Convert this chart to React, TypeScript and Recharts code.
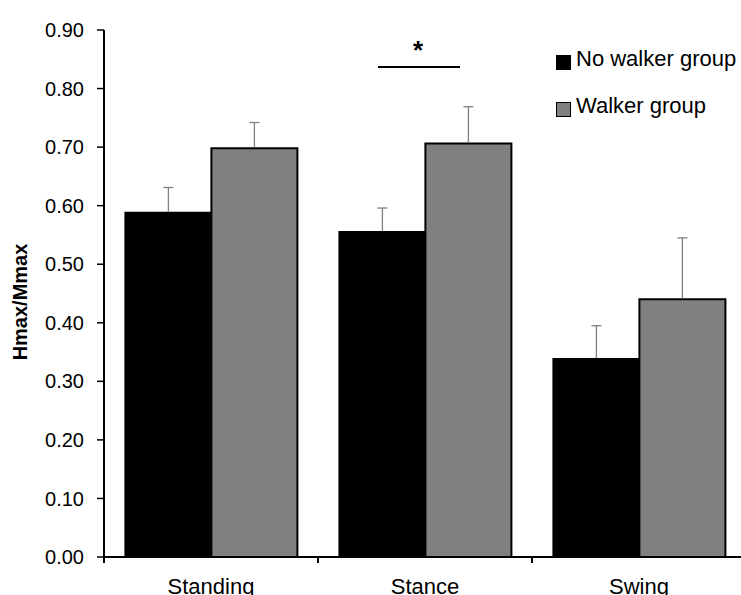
import { BarChart, Bar, XAxis, YAxis, Legend, Rectangle } from 'recharts';

const categories = ['Standing', 'Stance', 'Swing'];
const noWalker = [0.588, 0.555, 0.338];
const noWalkerErr = [0.043, 0.041, 0.057];
const walker = [0.698, 0.706, 0.44];
const walkerErr = [0.044, 0.063, 0.105];
const yTicks = [0, 0.1, 0.2, 0.3, 0.4, 0.5, 0.6, 0.7, 0.8, 0.9];

const data = categories.map((name, i) => ({
  name,
  noWalker: noWalker[i],
  noWalkerErr: noWalkerErr[i],
  walker: walker[i],
  walkerErr: walkerErr[i],
}));

const FONT = '"Liberation Sans", Arial, sans-serif';

// bar with an upward-only error whisker (Excel "plus" style)
function makeBarShape(errKey: string) {
  return (props: any) => {
    const { x, y, width, height, payload, value } = props;
    const v = Array.isArray(value) ? value[1] - value[0] : value;
    const err = payload[errKey];
    const pxPerUnit = v ? height / v : 0;
    const top = y - err * pxPerUnit;
    const cx = x + width / 2;
    return (
      <g>
        <Rectangle {...props} />
        <line x1={cx} x2={cx} y1={y - 1} y2={top} stroke="#808080" strokeWidth={1.3} />
        <line x1={cx - 5} x2={cx + 5} y1={top} y2={top} stroke="#808080" strokeWidth={1.3} />
      </g>
    );
  };
}

// category label plus a tick mark on the left boundary of each category
function CategoryTick(props: any) {
  const { x, y, payload } = props;
  const half = payload.offset ?? 0;
  const axisY = y - 21;
  return (
    <g>
      <line x1={x - half} x2={x - half} y1={axisY} y2={axisY + 6} stroke="#000" strokeWidth={2} />
      <text x={x} y={y} dy="0.71em" textAnchor="middle" fill="#000" fontSize={22} fontFamily={FONT}>
        {payload.value}
      </text>
    </g>
  );
}

function LegendBox(props: any) {
  const { payload } = props;
  return (
    <div style={{ fontFamily: FONT, fontSize: 22, color: '#000' }}>
      {payload.map((entry: any) => (
        <div key={entry.value} style={{ display: 'flex', alignItems: 'center', height: 47.6 }}>
          <span
            style={{
              display: 'inline-block',
              width: 15,
              height: 15,
              boxSizing: 'border-box',
              background: entry.color,
              border: '1.5px solid #000',
              marginTop: 7,
              marginRight: 5,
            }}
          />
          <span style={{ lineHeight: 1 }}>{entry.value}</span>
        </div>
      ))}
    </div>
  );
}

export default function App() {
  return (
    <div style={{ position: 'absolute', left: 0, top: 0, width: 741, height: 595, overflow: 'hidden', background: '#fff' }}>
      <BarChart
        width={760}
        height={595}
        data={data}
        margin={{ top: 30, right: 14, bottom: 0, left: 0 }}
        barCategoryGap="10%"
        barGap={0}
      >
        <YAxis
          width={104}
          domain={[0, 0.9]}
          ticks={yTicks}
          interval={0}
          tickFormatter={(v: number) => v.toFixed(2)}
          axisLine={{ stroke: '#000', strokeWidth: 2 }}
          tickLine={{ stroke: '#000', strokeWidth: 1.5 }}
          tickSize={7}
          tickMargin={13}
          tick={{ fill: '#000', fontSize: 20, fontFamily: FONT }}
          label={{
            content: () => (
              <text
                x={27}
                y={302}
                transform="rotate(-90 27 302)"
                textAnchor="middle"
                fontSize={20}
                fontWeight="bold"
                fontFamily={FONT}
                fill="#000"
              >
                Hmax/Mmax
              </text>
            ),
          }}
        />
        <XAxis
          dataKey="name"
          height={38}
          interval={0}
          axisLine={{ stroke: '#000', strokeWidth: 2 }}
          tickLine={false}
          tickSize={0}
          tickMargin={21}
          tick={<CategoryTick />}
        />
        <Legend
          layout="vertical"
          align="center"
          verticalAlign="middle"
          content={<LegendBox />}
          wrapperStyle={{ left: 556, top: 35, width: 190 }}
        />
        <Bar
          dataKey="noWalker"
          name="No walker group"
          fill="#000"
          stroke="#000"
          strokeWidth={2}
          shape={makeBarShape('noWalkerErr')}
          isAnimationActive={false}
        />
        <Bar
          dataKey="walker"
          name="Walker group"
          fill="#808080"
          stroke="#000"
          strokeWidth={2}
          shape={makeBarShape('walkerErr')}
          isAnimationActive={false}
        />
      </BarChart>
      <svg width={741} height={595} style={{ position: 'absolute', left: 0, top: 0, pointerEvents: 'none' }}>
        <line x1={378} x2={460} y1={67} y2={67} stroke="#000" strokeWidth={2} />
        <text x={418} y={59} textAnchor="middle" fontSize={26} fontWeight="bold" fontFamily={FONT} fill="#000">
          *
        </text>
      </svg>
    </div>
  );
}
